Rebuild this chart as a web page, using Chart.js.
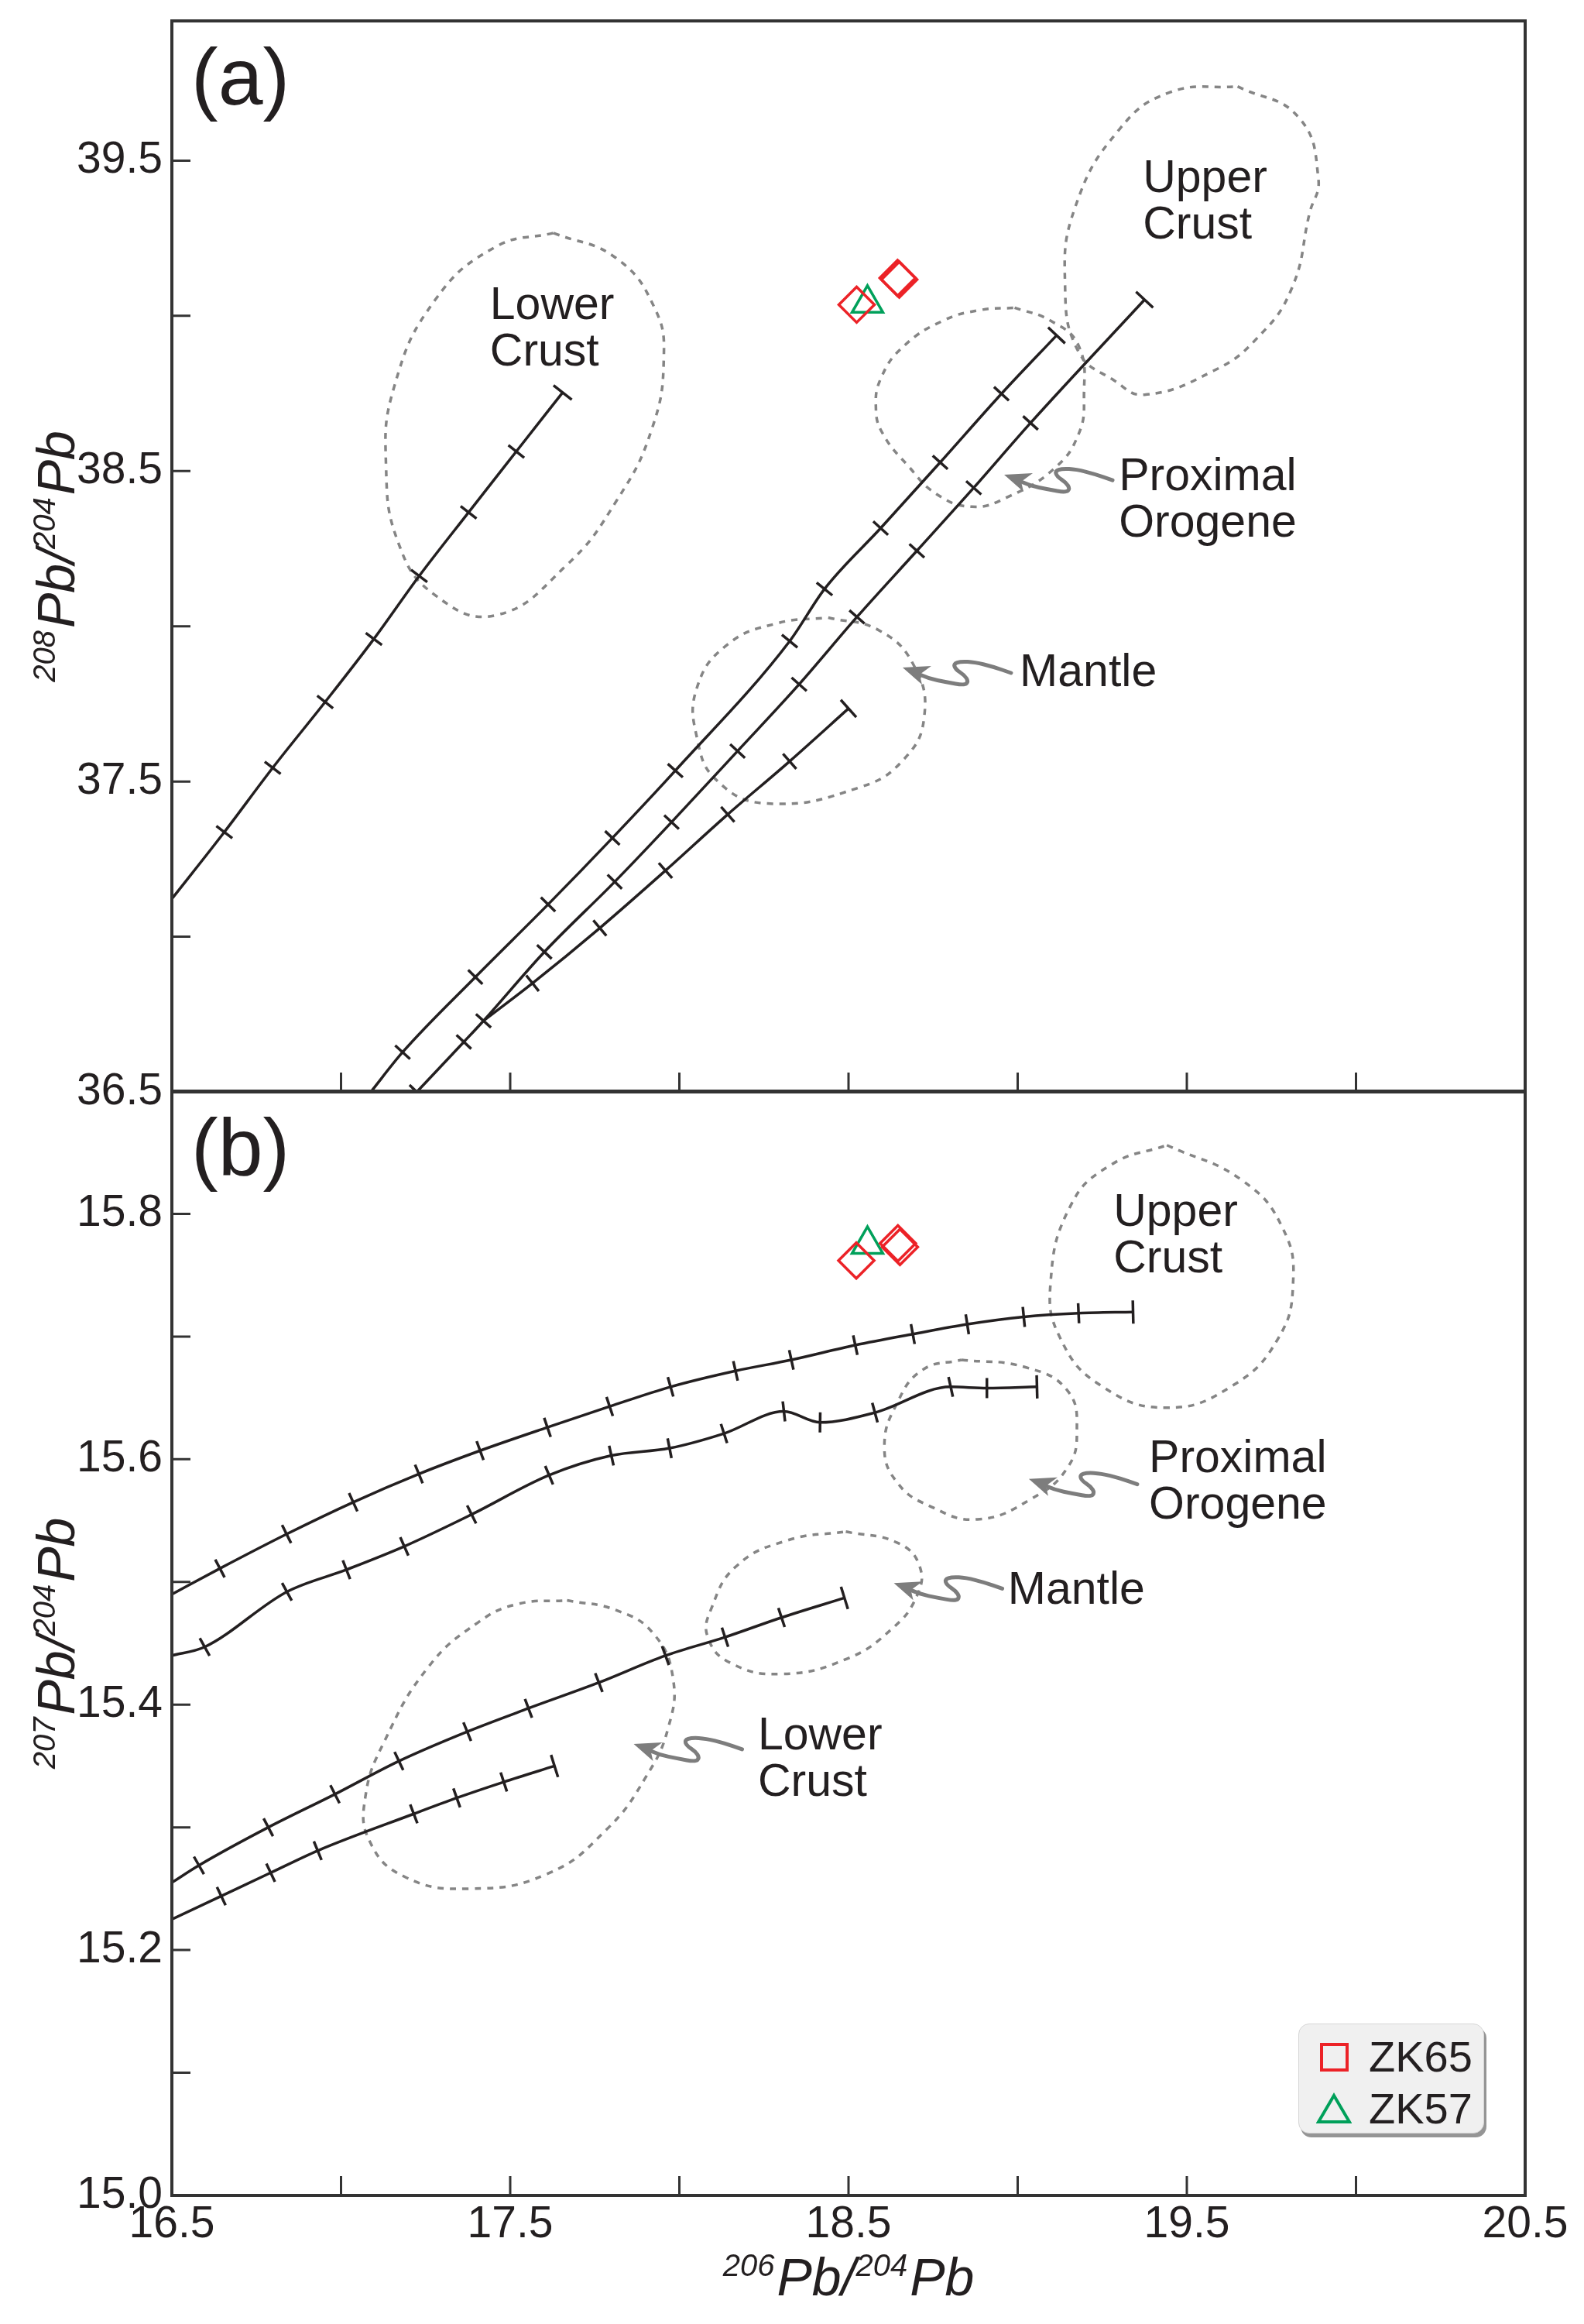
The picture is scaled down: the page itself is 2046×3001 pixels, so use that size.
<!DOCTYPE html>
<html>
<head>
<meta charset="utf-8">
<script src="https://cdn.jsdelivr.net/npm/chart.js@4.4.1/dist/chart.umd.min.js"></script>
<style>
  html, body { margin: 0; padding: 0; background: #fff; }
  body { width: 2046px; height: 3001px; position: relative; overflow: hidden; font-family: "Liberation Sans", Arial, sans-serif; }
  #caixa_a { position: absolute; left: 0; top: 0; width: 2046px; height: 1440px; }
  #caixa_b { position: absolute; left: 0; top: 1380px; width: 2046px; height: 1621px; }
  #legenda { position: absolute; left: 1677px; top: 2613px; width: 238px; height: 140px; background: #f0f0f0;
             border: 1px solid #d6d6d6; border-radius: 14px; box-shadow: 3px 5px 0 #959595; }
  #legenda .item { position: absolute; left: 90px; font-size: 56px; line-height: 60px; color: #231f20; }
  #legenda .quadrado { position: absolute; left: 27px; top: 24px; width: 29px; height: 29px; border: 4px solid #ec2227; }
  #legenda svg { position: absolute; left: 22px; top: 88px; }
</style>
</head>
<body>
<div id="caixa_a"><canvas id="grafico_a" width="2046" height="1440"></canvas></div>
<div id="caixa_b"><canvas id="grafico_b" width="2046" height="1621"></canvas></div>
<div id="legenda">
  <span class="quadrado"></span>
  <div class="item" style="top:12px">ZK65</div>
  <svg width="46" height="42" viewBox="0 0 46 42"><polygon points="23,4 43,38 3,38" fill="none" stroke="#00a05a" stroke-width="4"/></svg>
  <div class="item" style="top:79px">ZK57</div>
</div>
<script>
// eixos
const eixoX = [16.5, 17.0, 17.5, 18.0, 18.5, 19.0, 19.5, 20.0, 20.5]
const rotulosX = [16.5, 17.5, 18.5, 19.5, 20.5]
const eixoYa = [36.5, 37.0, 37.5, 38.0, 38.5, 39.0, 39.5]
const rotulosYa = [36.5, 37.5, 38.5, 39.5]
const eixoYb = [15.0, 15.1, 15.2, 15.3, 15.4, 15.5, 15.6, 15.7, 15.8]
const rotulosYb = [15.0, 15.2, 15.4, 15.6, 15.8]

// titulos dos eixos: [texto, sobrescrito]
const tituloX = [['206', 1], ['Pb/', 0], ['204', 1], ['Pb', 0]]
const tituloYa = [['208', 1], ['Pb/', 0], ['204', 1], ['Pb', 0]]
const tituloYb = [['207', 1], ['Pb/', 0], ['204', 1], ['Pb', 0]]

// (a) curvas de evolucao 208Pb/204Pb  [x, y, marca]
const crostaInferiorA = [[16.5,37.122,0],[16.655,37.337,1],[16.798,37.544,1],[16.953,37.756,1],[17.097,37.959,1],
  [17.231,38.162,1],[17.377,38.367,1],[17.518,38.563,1],[17.655,38.753,1]]
const orogenoA = [[17.088,36.5,0],[17.182,36.628,1],[17.397,36.870,1],[17.612,37.104,1],[17.802,37.318,1],
  [17.988,37.535,1],[18.326,37.952,1],[18.429,38.120,1],[18.595,38.316,1],[18.771,38.528,1],[18.952,38.749,1],[19.115,38.937,1]]
const crostaSuperiorA = [[17.224,36.5,1],[17.363,36.661,1],[17.421,36.729,1],[17.601,36.951,1],[17.809,37.177,1],
  [17.977,37.369,1],[18.172,37.598,1],[18.354,37.813,1],[18.525,38.030,1],[18.702,38.243,1],[18.870,38.446,1],
  [19.038,38.655,1],[19.375,39.052,1]]
const mantoA = [[17.421,36.729,0],[17.566,36.850,1],[17.765,37.028,1],[17.959,37.213,1],[18.143,37.394,1],
  [18.326,37.565,1],[18.500,37.735,1]]

// (a) campos tracejados
const campoCrostaInfA = [[17.628,39.267],[17.813,39.186],[17.927,39.025],[17.954,38.863],[17.918,38.633],[17.813,38.402],
  [17.664,38.194],[17.455,38.035],[17.276,38.102],[17.171,38.264],[17.133,38.517],[17.157,38.771],[17.276,39.048],
  [17.455,39.221],[17.628,39.267]]
const campoCrostaSupA = [[19.650,39.739],[19.830,39.640],[19.889,39.440],[19.863,39.332],[19.810,39.088],[19.705,38.925],
  [19.579,38.823],[19.375,38.746],[19.285,38.792],[19.180,38.884],[19.140,39.100],[19.170,39.350],[19.300,39.600],
  [19.450,39.720],[19.650,39.739]]
const campoOrogenoA = [[18.991,39.026],[19.096,38.985],[19.180,38.904],[19.196,38.741],[19.180,38.619],[19.107,38.507],
  [18.970,38.416],[18.865,38.385],[18.760,38.426],[18.676,38.517],[18.602,38.619],[18.581,38.701],[18.597,38.802],
  [18.665,38.904],[18.781,38.985],[18.886,39.018],[18.991,39.026]]
const campoMantoA = [[18.440,38.028],[18.590,37.987],[18.694,37.872],[18.724,37.710],[18.664,37.572],[18.530,37.480],
  [18.261,37.429],[18.112,37.502],[18.052,37.641],[18.052,37.802],[18.142,37.941],[18.291,38.010],[18.440,38.028]]

// (a) amostras
const zk65a = [[18.524,39.036],[18.645,39.122],[18.650,39.117]]
const zk57a = [[18.556,39.040]]

// (b) curvas de evolucao 207Pb/204Pb
const crostaSuperiorB = [[16.5,15.490,0],[16.642,15.511,1],[16.839,15.539,1],[17.036,15.565,1],[17.230,15.588,1],
  [17.411,15.607,1],[17.610,15.626,1],[17.794,15.643,1],[17.974,15.659,1],[18.166,15.672,1],[18.331,15.681,1],
  [18.520,15.693,1],[18.690,15.702,1],[18.851,15.710,1],[19.018,15.716,1],[19.180,15.719,1],[19.341,15.720,1]]
const orogenoB = [[16.5,15.440,0],[16.597,15.447,1],[16.840,15.492,1],[17.016,15.510,1],[17.187,15.529,1],
  [17.386,15.555,1],[17.615,15.587,1],[17.799,15.603,1],[17.971,15.609,1],[18.132,15.621,1],[18.309,15.639,1],
  [18.416,15.630,1],[18.578,15.638,1],[18.802,15.659,1],[18.909,15.658,1],[19.057,15.659,1]]
const mantoB = [[16.5,15.255,0],[16.580,15.269,1],[16.785,15.300,1],[16.982,15.327,1],[17.171,15.354,1],
  [17.373,15.378,1],[17.554,15.397,1],[17.762,15.418,1],[17.959,15.440,1],[18.135,15.455,1],[18.302,15.471,1],
  [18.488,15.487,1]]
const crostaInferiorB = [[16.5,15.225,0],[16.646,15.244,1],[16.792,15.263,1],[16.931,15.281,1],[17.215,15.311,1],
  [17.342,15.324,1],[17.481,15.337,1],[17.631,15.350,1]]

// (b) campos tracejados
const campoCrostaSupB = [[19.441,15.856],[19.665,15.827],[19.784,15.788],[19.814,15.743],[19.769,15.698],[19.635,15.660],
  [19.441,15.642],[19.246,15.660],[19.127,15.698],[19.097,15.743],[19.157,15.807],[19.276,15.840],[19.441,15.856]]
const campoOrogenoB = [[18.834,15.681],[19.023,15.675],[19.147,15.656],[19.175,15.623],[19.147,15.593],[19.042,15.568],
  [18.881,15.551],[18.739,15.562],[18.644,15.581],[18.606,15.610],[18.644,15.646],[18.720,15.673],[18.834,15.681]]
const campoMantoB = [[18.492,15.541],[18.644,15.532],[18.710,15.513],[18.701,15.488],[18.625,15.461],[18.492,15.437],
  [18.302,15.425],[18.151,15.434],[18.084,15.455],[18.094,15.478],[18.169,15.513],[18.321,15.534],[18.492,15.541]]
const campoCrostaInfB = [[17.668,15.485],[17.813,15.477],[17.923,15.458],[17.981,15.422],[17.967,15.381],[17.901,15.341],
  [17.784,15.298],[17.609,15.262],[17.376,15.250],[17.186,15.260],[17.084,15.289],[17.072,15.325],[17.128,15.370],
  [17.259,15.431],[17.405,15.467],[17.522,15.482],[17.668,15.485]]

// (b) amostras
const zk65b = [[18.523,15.762],[18.646,15.776],[18.652,15.773]]
const zk57b = [[18.556,15.775]]

// rotulos dos reservatorios (canto esquerdo da primeira linha) e pontas das setas
const rotulosA = [
  {x: 19.370, y: 39.440, linhas: ['Upper', 'Crust']},
  {x: 17.440, y: 39.029, linhas: ['Lower', 'Crust']},
  {x: 19.299, y: 38.478, linhas: ['Proximal', 'Orogene']},
  {x: 19.006, y: 37.847, linhas: ['Mantle']}
]
const setasA = [{x: 18.960, y: 38.488}, {x: 18.660, y: 37.867}]
const rotulosB = [
  {x: 19.283, y: 15.8006, linhas: ['Upper', 'Crust']},
  {x: 19.388, y: 15.5997, linhas: ['Proximal', 'Orogene']},
  {x: 18.971, y: 15.4926, linhas: ['Mantle']},
  {x: 18.232, y: 15.3735, linhas: ['Lower', 'Crust']}
]
const setasB = [{x: 19.033, y: 15.584}, {x: 18.634, y: 15.499}, {x: 17.865, y: 15.368}]

const corCurva = '#231f20'
const corTexto = '#231f20'
const corContorno = '#858585'
const corSeta = '#7d7d7d'
const vermelho = '#ec2227'
const verde = '#00a05a'
const fonte = '"Liberation Sans", Arial, sans-serif'

// seta ondulada (deslocamentos em px a partir da ponta)
const formaPonta = [[0, 0], [37, -2], [22, 9], [25, 22]]
const formaHaste = [[22, 9], [33, 14], [57, 19], [80, 23], [85, 18], [80, 10], [68, 2], [66, -5], [75, -8], [93, -7], [117, -1], [140, 7]]

function desenharSeta(ctx, x, y) {
  ctx.strokeStyle = corSeta
  ctx.fillStyle = corSeta
  ctx.lineWidth = 5
  ctx.lineJoin = 'round'
  ctx.lineCap = 'round'
  ctx.beginPath()
  ctx.moveTo(x + formaHaste[0][0], y + formaHaste[0][1])
  for (let i = 1; i < formaHaste.length - 1; i++) {
    const p = formaHaste[i]
    const q = formaHaste[i + 1]
    ctx.quadraticCurveTo(x + p[0], y + p[1], x + (p[0] + q[0]) / 2, y + (p[1] + q[1]) / 2)
  }
  const fim = formaHaste[formaHaste.length - 1]
  ctx.lineTo(x + fim[0], y + fim[1])
  ctx.stroke()
  ctx.beginPath()
  formaPonta.forEach((p, i) => i ? ctx.lineTo(x + p[0], y + p[1]) : ctx.moveTo(x + p[0], y + p[1]))
  ctx.closePath()
  ctx.fill()
}

// titulo com sobrescritos, centrado em (x, y) na linha de base
function desenharTitulo(ctx, partes, x, y, rotacao) {
  const fonteBase = 'italic 68px ' + fonte
  const fonteSup = 'italic 40px ' + fonte
  ctx.save()
  ctx.translate(x, y)
  ctx.rotate(rotacao)
  ctx.fillStyle = corTexto
  ctx.textAlign = 'left'
  ctx.textBaseline = 'alphabetic'
  let total = 0
  const larguras = partes.map(([txt, sup]) => {
    ctx.font = sup ? fonteSup : fonteBase
    const w = ctx.measureText(txt).width + (sup ? 3 : 0)
    total += w
    return w
  })
  let cx = -total / 2
  partes.forEach(([txt, sup], i) => {
    ctx.font = sup ? fonteSup : fonteBase
    ctx.fillText(txt, cx, sup ? -25 : 0)
    cx += larguras[i]
  })
  ctx.restore()
}

// moldura, ticks para dentro, letra do painel, titulos, rotulos e setas
const pluginMoldura = {
  id: 'moldura',
  afterDatasetsDraw(chart, args, opts) {
    const {ctx, chartArea: a, scales} = chart
    ctx.save()
    ctx.strokeStyle = '#333'
    ctx.lineWidth = 3
    ctx.beginPath()
    scales.x.ticks.forEach(t => {
      const px = scales.x.getPixelForValue(t.value)
      if (px - a.left < 3 || a.right - px < 3) return
      ctx.moveTo(px, a.bottom)
      ctx.lineTo(px, a.bottom - 25)
    })
    scales.y.ticks.forEach(t => {
      const py = scales.y.getPixelForValue(t.value)
      if (py - a.top < 3 || a.bottom - py < 3) return
      ctx.moveTo(a.left, py)
      ctx.lineTo(a.left + 24, py)
    })
    ctx.stroke()
    ctx.lineWidth = 4
    ctx.strokeRect(a.left, a.top, a.right - a.left, a.bottom - a.top)

    ctx.fillStyle = corTexto
    ctx.textAlign = 'left'
    ctx.textBaseline = 'alphabetic'
    ctx.font = '104px ' + fonte
    ctx.fillText(opts.painel, a.left + 25, a.top + 108)

    desenharTitulo(ctx, opts.tituloY, 96, (a.top + a.bottom) / 2, -Math.PI / 2)
    if (opts.tituloX) desenharTitulo(ctx, opts.tituloX, (a.left + a.right) / 2, a.bottom + 129, 0)

    ctx.font = '59px ' + fonte
    ctx.fillStyle = corTexto
    ctx.textAlign = 'left'
    ctx.textBaseline = 'middle'
    opts.rotulos.forEach(r => {
      const x = scales.x.getPixelForValue(r.x)
      const y = scales.y.getPixelForValue(r.y)
      r.linhas.forEach((l, i) => ctx.fillText(l, x, y + i * 60))
    })
    opts.setas.forEach(s => desenharSeta(ctx, scales.x.getPixelForValue(s.x), scales.y.getPixelForValue(s.y)))
    ctx.restore()
  }
}

function anguloTick(ctx) {
  if (ctx.type !== 'data') return 0
  const dados = ctx.dataset.data
  const i = ctx.dataIndex
  const sx = ctx.chart.scales.x
  const sy = ctx.chart.scales.y
  const a = dados[Math.max(i - 1, 0)]
  const b = dados[Math.min(i + 1, dados.length - 1)]
  const dx = sx.getPixelForValue(b.x) - sx.getPixelForValue(a.x)
  const dy = sy.getPixelForValue(b.y) - sy.getPixelForValue(a.y)
  return Math.atan2(dy, dx) * 180 / Math.PI + 90
}

function curva(pontos) {
  return {
    data: pontos.map(p => ({x: p[0], y: p[1], t: p[2]})),
    showLine: true,
    borderColor: corCurva,
    borderWidth: 3.5,
    cubicInterpolationMode: 'monotone',
    pointStyle: 'line',
    pointBorderColor: corCurva,
    pointBorderWidth: 3.5,
    pointRadius: ctx => {
      if (ctx.type !== 'data' || !ctx.raw.t) return 0
      return ctx.dataIndex === ctx.dataset.data.length - 1 ? 15 : 13
    },
    pointRotation: anguloTick
  }
}

function contorno(pontos) {
  return {
    data: pontos.map(p => ({x: p[0], y: p[1]})),
    showLine: true,
    borderColor: corContorno,
    borderWidth: 3.5,
    borderDash: [8, 8],
    tension: 0.45,
    pointRadius: 0
  }
}

function amostras(nome, pontos, estilo, cor, espessura) {
  return {
    label: nome,
    data: pontos.map(p => ({x: p[0], y: p[1]})),
    showLine: false,
    pointStyle: estilo,
    pointRadius: 23,
    pointBorderWidth: espessura,
    pointBorderColor: cor,
    pointBackgroundColor: 'rgba(0,0,0,0)'
  }
}

function escalas(cfg) {
  return {
    x: {
      type: 'linear', min: 16.5, max: 20.5,
      grid: {display: false, drawTicks: false},
      border: {display: false},
      afterBuildTicks: s => { s.ticks = eixoX.map(v => ({value: v})) },
      afterFit: s => { s.height = cfg.alturaX; s.paddingLeft = 0; s.paddingRight = 0 },
      ticks: {
        display: cfg.mostrarX, autoSkip: false, maxRotation: 0, padding: 4, color: corTexto,
        font: {family: fonte, size: 57},
        callback: v => rotulosX.includes(v) ? v.toFixed(1) : ''
      }
    },
    y: {
      type: 'linear', min: cfg.minY, max: cfg.maxY,
      grid: {display: false, drawTicks: false},
      border: {display: false},
      afterBuildTicks: s => { s.ticks = cfg.eixoY.map(v => ({value: v})) },
      afterFit: s => { s.width = 222; s.paddingTop = 0; s.paddingBottom = 0 },
      ticks: {
        autoSkip: false, padding: 12, color: corTexto,
        font: {family: fonte, size: 57},
        callback: v => cfg.rotulosY.includes(v) ? v.toFixed(1) : ''
      }
    }
  }
}

function configuracao(datasets, cfg, moldura) {
  return {
    type: 'scatter',
    data: {datasets: datasets},
    options: {
      responsive: false,
      animation: false,
      devicePixelRatio: 1,
      events: [],
      layout: {padding: {left: 0, right: 76, top: cfg.padTopo, bottom: 0}},
      plugins: {legend: {display: false}, tooltip: {enabled: false}, moldura: moldura},
      scales: escalas(cfg)
    },
    plugins: [pluginMoldura]
  }
}

const graficoA = new Chart(document.getElementById('grafico_a'), configuracao([
  amostras('ZK65', zk65a, 'rectRot', vermelho, 3.5),
  amostras('ZK57', zk57a, 'triangle', verde, 3.5),
  curva(crostaInferiorA), curva(orogenoA), curva(crostaSuperiorA), curva(mantoA),
  contorno(campoCrostaInfA), contorno(campoCrostaSupA), contorno(campoOrogenoA), contorno(campoMantoA)
], {minY: 36.5, maxY: 39.95, eixoY: eixoYa, rotulosY: rotulosYa, mostrarX: false, alturaX: 30, padTopo: 27},
{painel: '(a)', tituloY: tituloYa, tituloX: null, rotulos: rotulosA, setas: setasA}))

const graficoB = new Chart(document.getElementById('grafico_b'), configuracao([
  amostras('ZK65', zk65b, 'rectRot', vermelho, 3.5),
  amostras('ZK57', zk57b, 'triangle', verde, 3.5),
  curva(crostaSuperiorB), curva(orogenoB), curva(mantoB), curva(crostaInferiorB),
  contorno(campoCrostaSupB), contorno(campoOrogenoB), contorno(campoMantoB), contorno(campoCrostaInfB)
], {minY: 15.0, maxY: 15.9, eixoY: eixoYb, rotulosY: rotulosYb, mostrarX: true, alturaX: 166, padTopo: 29},
{painel: '(b)', tituloY: tituloYb, tituloX: tituloX, rotulos: rotulosB, setas: setasB}))
</script>
</body>
</html>
